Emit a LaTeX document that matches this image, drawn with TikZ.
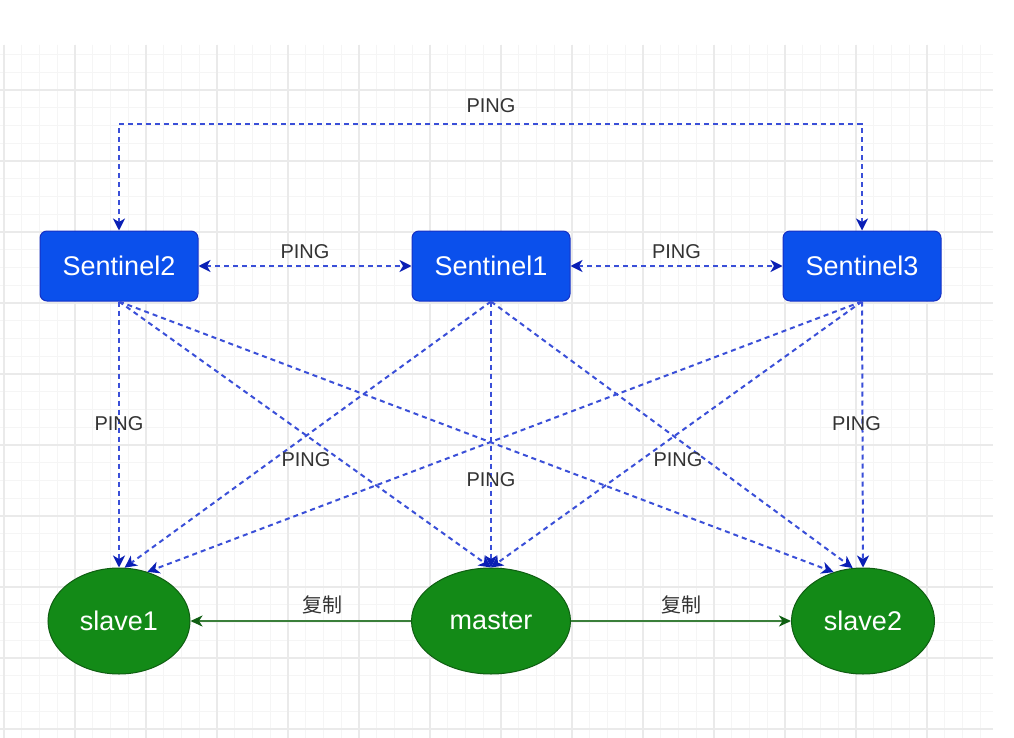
\documentclass[tikz,border=0pt]{standalone}
\usepackage{fontspec}
\setmainfont{Liberation Sans}
\newfontfamily\cjk{Noto Sans CJK SC}
\usepackage{tikz}
\usetikzlibrary{arrows.meta,shapes.geometric}
\definecolor{blue600}{HTML}{0B50EC}
\definecolor{blue900}{HTML}{1630C4}
\definecolor{blue400}{HTML}{3A4FD8}
\definecolor{blue800}{HTML}{0A1FB5}
\definecolor{green700}{HTML}{138A17}
\definecolor{green900}{HTML}{0F5E12}
\definecolor{green600}{HTML}{3A7F3A}
\definecolor{gray100}{HTML}{F5F5F5}
\definecolor{gray200}{HTML}{EAEAEA}
\definecolor{gray800}{HTML}{333333}
\tikzset{pingtip/.tip={Stealth[length=12pt,width=12pt,inset=3.5pt,color=blue800]},
	repltip/.tip={Stealth[length=12pt,width=11pt,inset=3.5pt,color=green900]}}
\tikzstyle{sentinel}=[rectangle, rounded corners=7pt, draw=blue900, fill=blue600, line width=1pt, minimum width=158pt, minimum height=70pt, text=white, font=\fontsize{27}{32}\selectfont]
\tikzstyle{redis}=[ellipse, draw=green900, fill=green700, line width=1pt, minimum height=106pt, inner sep=0pt, text=white, font=\fontsize{27}{32}\selectfont]
\tikzstyle{ping}=[draw=blue400, line width=2pt, dash pattern=on 5pt off 4pt, -pingtip]
\tikzstyle{repl}=[draw=green600, line width=2pt, -repltip]
\tikzstyle{lbl}=[text=gray800, font=\fontsize{20}{24}\selectfont]

\begin{document}
\begin{tikzpicture}[x=1pt, y=-1pt]
	\useasboundingbox (0,0) rectangle (1014,738);
	\fill[white] (0,0) rectangle (1014,738);
	% background grid
	\begin{scope}
		\clip (0,45) rectangle (993,738);
		\foreach \k in {0,...,55} {
			\draw[gray100, line width=1pt] ({4+17.75*\k},45) -- ({4+17.75*\k},738);
		}
		\foreach \k in {0,...,39} {
			\draw[gray100, line width=1pt] (0,{54.5+17.75*\k}) -- (993,{54.5+17.75*\k});
		}
		\foreach \k in {0,...,13} {
			\draw[gray200, line width=1.2pt] ({4+71*\k},45) -- ({4+71*\k},738);
		}
		\foreach \k in {0,...,9} {
			\draw[gray200, line width=1.2pt] (0,{90+71*\k}) -- (993,{90+71*\k});
		}
	\end{scope}

	\node[sentinel] (s2) at (119,266) {Sentinel2};
	\node[sentinel] (s1) at (491,266) {Sentinel1};
	\node[sentinel] (s3) at (862,266) {Sentinel3};
	\node[redis, minimum width=142pt] (slave1) at (119,621) {slave1};
	\node[redis, minimum width=159pt] (master) at (491,621) {master};
	\node[redis, minimum width=143pt] (slave2) at (863,621) {slave2};
	\coordinate (pingtop) at (491,124);

	% sentinels ping each other
	\path[ping, pingtip-pingtip] (s2.north) |- (pingtop) -| (s3.north);
	\node[lbl] (p0) at (491,106) {PING};
	\path[ping, pingtip-pingtip] (s2) -- (s1) node[lbl, midway, above=3pt] (p1) {PING};
	\path[ping, pingtip-pingtip] (s1) -- (s3) node[lbl, midway, above=3pt] (p2) {PING};

	% sentinels ping the redis nodes
	\path[ping] (s2.south) -- (slave1.north) node[lbl, pos=0.46] (p3) {PING};
	\path[ping] (s2.south) -- (master.north);
	\path[ping] (s2.south) -- (slave2.121);
	\path[ping] (s1.south) -- (slave1.84);
	\path[ping] (s1.south) -- (master.north) node[lbl, pos=0.67] (p4) {PING};
	\path[ping] (s1.south) -- (slave2.101);
	\path[ping] (s3.south) -- (slave1.60);
	\path[ping] (s3.south) -- (master.north);
	\path[ping] (s3.south) -- (slave2.north) node[lbl, pos=0.46, xshift=-6pt] (p5) {PING};
	\node[lbl] (p6) at (306,460) {PING};
	\node[lbl] (p7) at (678,460) {PING};

	% replication
	\path[repl] (master) -- (slave1) node[lbl, pos=0.4, above=3pt] (r1) {\cjk 复制};
	\path[repl] (master) -- (slave2) node[lbl, midway, above=3pt] (r2) {\cjk 复制};
\end{tikzpicture}
\end{document}
